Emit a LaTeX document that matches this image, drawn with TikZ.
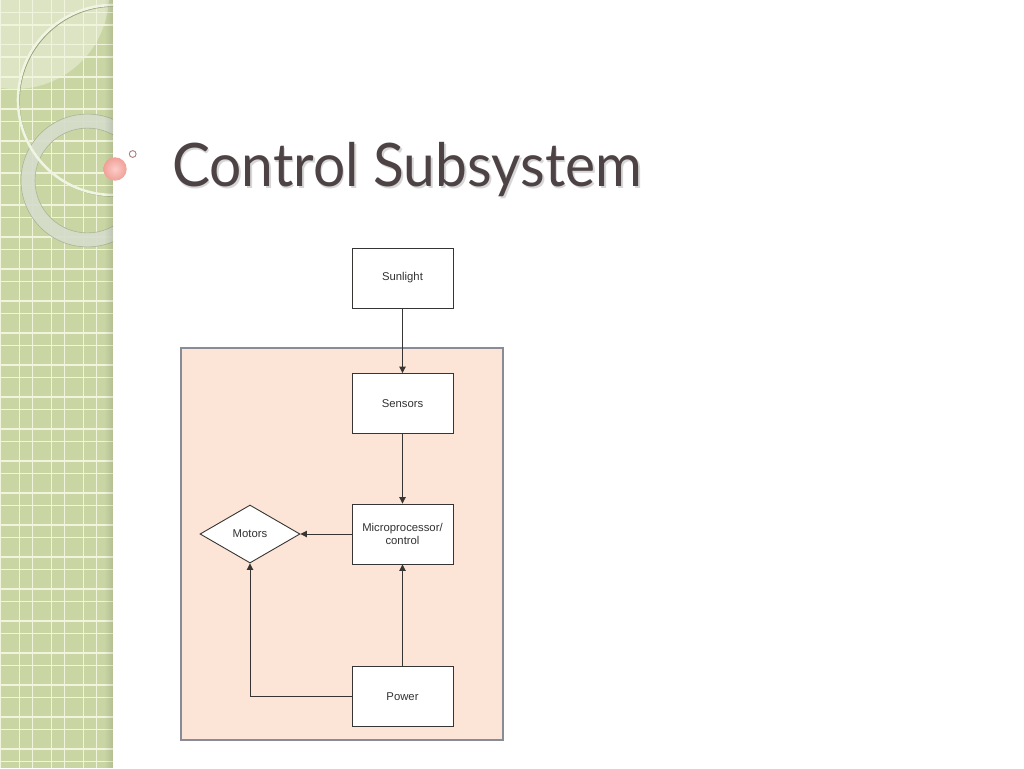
\documentclass[tikz,border=0pt]{standalone}
\usepackage{fontspec}
\setmainfont{Liberation Sans}
\newfontfamily\titlefont{Lato}
\usetikzlibrary{shapes.geometric,arrows.meta,calc}
\definecolor{stripgreen}{RGB}{201,214,163}
\definecolor{stripgrid}{RGB}{240,244,220}
\definecolor{lightdisc}{RGB}{220,228,196}
\definecolor{ringcol}{RGB}{214,221,204}
\definecolor{ringedge}{RGB}{170,180,150}
\definecolor{arccol}{RGB}{240,244,226}
\definecolor{arcshadow}{RGB}{150,162,120}
\definecolor{peach}{RGB}{252,229,214}
\definecolor{peachedge}{RGB}{135,140,150}
\definecolor{titlecol}{RGB}{77,67,69}
\definecolor{linecol}{RGB}{55,52,52}
\definecolor{textcol}{RGB}{50,50,50}
\definecolor{pinkin}{RGB}{252,205,200}
\definecolor{pinkout}{RGB}{240,160,152}
\definecolor{smallring}{RGB}{170,125,125}
\tikzset{
  box/.style={draw=linecol, line width=0.9pt, fill=white, minimum width=101pt, minimum height=60pt, inner sep=0pt, text=textcol, font=\fontsize{11.3}{13.5}\selectfont, align=center},
  decision/.style={diamond, draw=linecol, line width=0.9pt, fill=white, minimum width=100pt, minimum height=58pt, aspect=1.72, inner sep=0pt, text=textcol, font=\fontsize{11.3}{13.5}\selectfont},
  conn/.style={draw=linecol, line width=0.9pt, -{Triangle[length=6.5pt,width=6.5pt]}},
}
\begin{document}
\begin{tikzpicture}[x=1pt,y=-1pt]
\useasboundingbox (0,0) rectangle (1024,768);
\fill[white] (0,0) rectangle (1024,768);
% left strip
\begin{scope}
  \clip (0,0) rectangle (113,768);
  \fill[stripgreen] (0,0) rectangle (113,768);
  \fill[lightdisc] (15,-5) circle (94);
  \foreach \k in {0,...,3} {
    \draw[stripgrid, line width=1.6pt] ({0.3+32*\k},0) -- ({0.3+32*\k},768);
    \draw[stripgrid, line width=1.6pt] ({19.3+32*\k},0) -- ({19.3+32*\k},768);
  }
  \foreach \k in {0,...,24} {
    \draw[stripgrid, line width=1.6pt] (0,{12.7+32*\k}) -- (113,{12.7+32*\k});
    \draw[stripgrid, line width=1.6pt] (0,{25.3+32*\k}) -- (113,{25.3+32*\k});
  }
  % thick ring
  \fill[ringcol, fill opacity=0.92, even odd rule] (87.4,180.5) circle (66.4) (87.4,180.5) circle (52.4);
  \draw[ringedge, line width=0.6pt] (87.4,180.5) circle (66.4);
  \draw[ringedge, line width=0.6pt] (87.4,180.5) circle (52.4);
  % big thin arc
  \draw[arcshadow, line width=1.2pt] (114.2,101.2) circle (95);
  \draw[arccol, line width=2.6pt] (113,100) circle (95);
  % right edge shadow
  \foreach \i in {0,...,8} {
    \fill[black, opacity={0.012*\i}] ({104+\i},0) rectangle ({105+\i},768);
  }
\end{scope}
% pink dot and small ring
\shade[inner color=pinkin, outer color=pinkout] (115,169) circle (11.7);
\draw[smallring, line width=0.9pt] (132.7,154) circle (3.4);
% title
\node[anchor=base west, inner sep=0pt, text=gray!45, opacity=0.7] (titleshadow) at (173.5,188) {\resizebox{470pt}{\height}{\titlefont\fontsize{60}{60}\selectfont Control Subsystem}};
\node[anchor=base west, inner sep=0pt, text=titlecol] (title) at (172,186.5) {\resizebox{470pt}{\height}{\titlefont\fontsize{60}{60}\selectfont Control Subsystem}};
% peach background
\draw[peachedge, fill=peach, line width=1.2pt] (181,348) rectangle (503,740);
% nodes
\node[box] (sun) at (402.5,278) {Sunlight};
\node[box] (sens) at (402.5,403.5) {Sensors};
\node[box] (micro) at (402.5,534) {Microprocessor/\\control};
\node[box] (power) at (402.5,696.5) {Power};
\node[decision] (motors) at (250,534) {Motors};
% connectors
\draw[conn] (sun.south) -- (sens.north);
\draw[conn] (sens.south) -- (micro.north);
\draw[conn] (micro.west) -- (motors.east);
\draw[conn] (power.north) -- (micro.south);
\draw[conn] (power.west) -| (motors.south);
\end{tikzpicture}
\end{document}
